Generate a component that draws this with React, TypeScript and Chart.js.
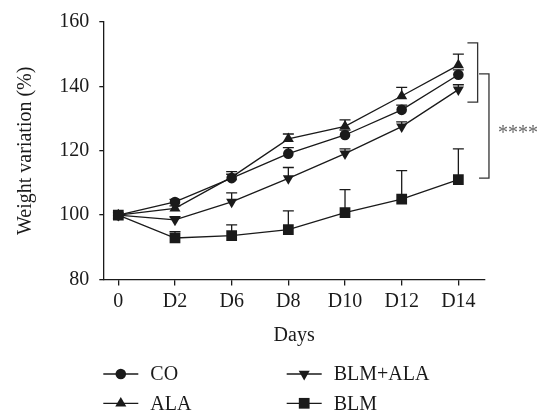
import React, { useEffect, useRef } from 'react';
import { Chart, registerables } from 'chart.js';

Chart.register(...registerables);

// ---- data ----
const days = ['0', 'D2', 'D6', 'D8', 'D10', 'D12', 'D14'];
const seriesNames = ['CO', 'ALA', 'BLM+ALA', 'BLM'];
const coValues = [100, 104.1, 111.5, 119.1, 124.9, 132.7, 143.6];
const coErrors = [0, 0.8, 1.2, 1.9, 1.5, 1.5, 1.5];
const alaValues = [100, 102.1, 111.8, 123.7, 127.6, 137.0, 146.6];
const alaErrors = [0, 0.8, 1.7, 1.5, 2.0, 2.7, 3.4];
const blmAlaValues = [100, 98.5, 104.1, 111.4, 119.1, 127.5, 139.0];
const blmAlaErrors = [0, 1.0, 2.8, 3.4, 1.5, 1.5, 1.5];
const blmValues = [100, 92.9, 93.6, 95.5, 100.8, 105.0, 111.0];
const blmErrors = [0, 2.0, 3.4, 5.8, 7.1, 8.8, 9.6];
const yTicks = [80, 100, 120, 140, 160];
const innerBracket = [153.5, 135.1];
const outerBracket = [143.9, 111.5];
const significanceLabel = '****';
const significanceLevel = 126.4;

const FONT_FAMILY = '"Liberation Serif", "Times New Roman", serif';
const INK = '#1a1a1a';

type Shape = 'circle' | 'up' | 'down' | 'square';
const shapes: Shape[] = ['circle', 'up', 'down', 'square'];
const valueSets = [coValues, alaValues, blmAlaValues, blmValues];
const errorSets = [coErrors, alaErrors, blmAlaErrors, blmErrors];

const CIRCLE_R = 5.3;
const TRI_R = 6.4;
const RECT_R = 7.6;

function pointOpts(shape: Shape) {
  switch (shape) {
    case 'circle':
      return { pointStyle: 'circle', pointRadius: CIRCLE_R, pointRotation: 0 };
    case 'up':
      return { pointStyle: 'triangle', pointRadius: TRI_R, pointRotation: 0 };
    case 'down':
      return { pointStyle: 'triangle', pointRadius: TRI_R, pointRotation: 180 };
    default:
      return { pointStyle: 'rect', pointRadius: RECT_R, pointRotation: 0 };
  }
}

function drawShape(ctx: CanvasRenderingContext2D, shape: Shape, x: number, y: number) {
  ctx.beginPath();
  if (shape === 'circle') {
    ctx.arc(x, y, CIRCLE_R, 0, Math.PI * 2);
  } else if (shape === 'up') {
    const r = TRI_R;
    ctx.moveTo(x, y - r);
    ctx.lineTo(x + r * 0.866, y + r / 2);
    ctx.lineTo(x - r * 0.866, y + r / 2);
  } else if (shape === 'down') {
    const r = TRI_R;
    ctx.moveTo(x, y + r);
    ctx.lineTo(x + r * 0.866, y - r / 2);
    ctx.lineTo(x - r * 0.866, y - r / 2);
  } else {
    const s = RECT_R * Math.SQRT1_2;
    ctx.rect(x - s, y - s, 2 * s, 2 * s);
  }
  ctx.closePath();
  ctx.fill();
}

const extrasPlugin = {
  id: 'extras',
  beforeDatasetsDraw(chart: any) {
    const ctx = chart.ctx as CanvasRenderingContext2D;
    const xs = chart.scales.x;
    const ys = chart.scales.y;
    ctx.save();
    ctx.strokeStyle = INK;
    ctx.lineWidth = 1.3;
    chart.data.datasets.forEach((ds: any) => {
      ds.data.forEach((p: any, i: number) => {
        const e = ds.errors[i];
        if (!e) return;
        const px = xs.getPixelForValue(p.x);
        const y0 = ys.getPixelForValue(p.y);
        const y1 = ys.getPixelForValue(p.y + e);
        ctx.beginPath();
        ctx.moveTo(px, y0);
        ctx.lineTo(px, y1);
        ctx.moveTo(px - 5.5, y1);
        ctx.lineTo(px + 5.5, y1);
        ctx.stroke();
      });
    });
    ctx.restore();
  },
  afterDraw(chart: any) {
    const ctx = chart.ctx as CanvasRenderingContext2D;
    const xs = chart.scales.x;
    const ys = chart.scales.y;
    const area = chart.chartArea;
    ctx.save();
    // brackets
    ctx.strokeStyle = '#333';
    ctx.lineWidth = 1.3;
    const last = days.length - 1;
    const drawBracket = (x0: number, x1: number, top: number, bottom: number) => {
      const yt = ys.getPixelForValue(top);
      const yb = ys.getPixelForValue(bottom);
      ctx.beginPath();
      ctx.moveTo(x0, yt);
      ctx.lineTo(x1, yt);
      ctx.lineTo(x1, yb);
      ctx.lineTo(x0, yb);
      ctx.stroke();
    };
    const ix0 = xs.getPixelForValue(last + 0.16);
    const ix1 = xs.getPixelForValue(last + 0.34);
    const ox0 = xs.getPixelForValue(last + 0.365);
    const ox1 = xs.getPixelForValue(last + 0.54);
    drawBracket(ix0, ix1, innerBracket[0], innerBracket[1]);
    drawBracket(ox0, ox1, outerBracket[0], outerBracket[1]);
    ctx.fillStyle = '#666';
    ctx.font = `20px ${FONT_FAMILY}`;
    ctx.textAlign = 'left';
    ctx.textBaseline = 'alphabetic';
    ctx.fillText(significanceLabel, ox1 + 9, ys.getPixelForValue(significanceLevel) + 8.5);

    // legend (2 x 2)
    ctx.fillStyle = INK;
    ctx.strokeStyle = INK;
    ctx.font = `20px ${FONT_FAMILY}`;
    ctx.textBaseline = 'middle';
    const colX = [area.left, area.left + 183.4];
    const rowY = [area.bottom + 94.5, area.bottom + 123.8];
    chart.data.datasets.forEach((ds: any, i: number) => {
      const cx = colX[Math.floor(i / 2)];
      const cy = rowY[i % 2];
      ctx.lineWidth = 1.3;
      ctx.beginPath();
      ctx.moveTo(cx, cy);
      ctx.lineTo(cx + 35, cy);
      ctx.stroke();
      drawShape(ctx, ds.shape, cx + 17.5, cy);
      ctx.fillText(ds.label, cx + 47, cy + 1);
    });
    ctx.restore();
  },
};

export default function App() {
  const canvasRef = useRef<HTMLCanvasElement | null>(null);

  useEffect(() => {
    const canvas = canvasRef.current;
    if (!canvas) return;
    const font = { family: FONT_FAMILY, size: 20 };
    const datasets = seriesNames.map((name, k) => ({
      label: name,
      shape: shapes[k],
      errors: errorSets[k],
      data: valueSets[k].map((y, i) => ({ x: i, y })),
      borderColor: INK,
      backgroundColor: INK,
      borderWidth: 1.3,
      pointBackgroundColor: INK,
      pointBorderColor: INK,
      pointBorderWidth: 0,
      tension: 0,
      fill: false,
      ...pointOpts(shapes[k]),
    }));
    const chart = new Chart(canvas, {
      type: 'line',
      data: { datasets } as any,
      options: {
        responsive: false,
        animation: false,
        layout: { padding: { left: 0, top: 18, right: 53, bottom: 71.5 } },
        plugins: { legend: { display: false }, tooltip: { enabled: false } },
        scales: {
          x: {
            type: 'linear',
            min: -0.265,
            max: 6.47,
            afterBuildTicks: (s: any) => {
              s.ticks = days.map((_, i) => ({ value: i }));
            },
            afterFit: (s: any) => {
              s.height = 68;
            },
            ticks: {
              callback: (v: any) => days[Math.round(Number(v))],
              font,
              color: INK,
              padding: 4,
              autoSkip: false,
              maxRotation: 0,
            },
            grid: {
              display: true,
              drawOnChartArea: false,
              drawTicks: true,
              tickLength: 6,
              color: INK,
              lineWidth: 1.3,
            },
            border: { display: true, color: INK, width: 1.3 },
            title: { display: true, text: 'Days', font, color: INK, padding: { top: 0, bottom: 0 } },
          },
          y: {
            type: 'linear',
            min: 80,
            max: 160,
            afterBuildTicks: (s: any) => {
              s.ticks = yTicks.map((v) => ({ value: v }));
            },
            afterFit: (s: any) => {
              s.width = 103.3;
            },
            ticks: { font, color: INK, padding: 10 },
            grid: {
              display: true,
              drawOnChartArea: false,
              drawTicks: true,
              tickLength: 4,
              color: INK,
              lineWidth: 1.3,
            },
            border: { display: true, color: INK, width: 1.3 },
            title: {
              display: true,
              text: 'Weight variation (%)',
              font,
              color: INK,
              padding: { top: 13.5, bottom: 0 },
            },
          },
        },
      } as any,
      plugins: [extrasPlugin],
    });
    return () => chart.destroy();
  }, []);

  return (
    <div style={{ position: 'absolute', left: 0, top: 0, width: 538, height: 419, background: '#fff' }}>
      <canvas ref={canvasRef} width={538} height={419} style={{ width: 538, height: 419, display: 'block' }} />
    </div>
  );
}
